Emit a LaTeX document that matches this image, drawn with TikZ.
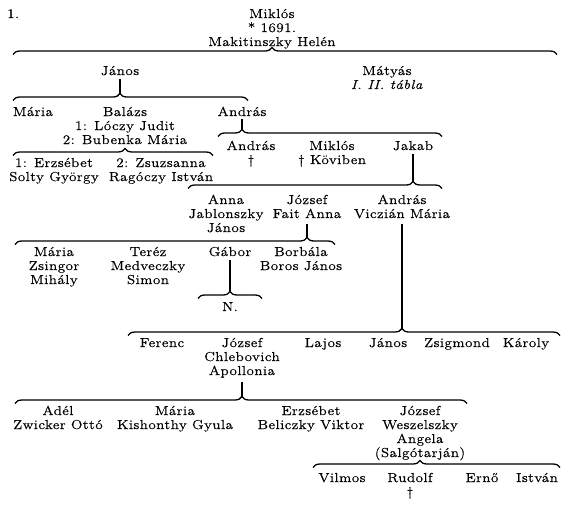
\documentclass[tikz,border=0pt]{standalone}
\usepackage{fontspec}
\setmainfont{lmroman12-regular.otf}[ItalicFont=lmroman12-italic.otf,FakeStretch=1.15,LetterSpace=4,FakeBold=0.6]
\usetikzlibrary{decorations.pathreplacing}

\begin{document}
\begin{tikzpicture}[
  x=1pt,
  y=-1pt,
  font=\fontsize{13}{14}\selectfont,
  person/.style={inner sep=0pt,anchor=base,align=center},
  famline/.style={decorate,decoration={brace,amplitude=7pt,aspect=#1},line width=1.3pt},
  stem/.style={line width=1.5pt}
]
\useasboundingbox (0,0) rectangle (570,506);

% nodes sit on the baseline of their last line
\node[person,anchor=base west] (tablaszam) at (7,18) {1.};
\node[person] (miklos) at (272,46) {Miklós\\* 1691.\\Makitinszky Helén};
\coordinate (b1w) at (13,54.5);
\coordinate (b1e) at (557,54.5);
\draw[famline=0.476] (b1w) -- (b1e);

\node[person] (janos) at (120,75) {János};
\node[person] (matyas) at (387,89) {Mátyás\\\textit{I. II. tábla}};

% János
\coordinate (b2w) at (13,100.5);
\coordinate (b2e) at (248,100.5);
\coordinate (b2t) at (120,93.5);
\draw[famline=0.455] (b2w) -- (b2e);
\draw[stem] ([yshift=-4pt]janos.south) -- (b2t);

\node[person] (maria) at (33,116) {Mária};
\node[person] (balazs) at (125,144) {Balázs\\1: Lóczy Judit\\2: Bubenka Mária};
\node[person] (andras) at (242,116) {András};

\coordinate (b3w) at (13,155.5);
\coordinate (b3e) at (213,155.5);
\draw[famline=0.56] (b3w) -- (b3e);
\node[person] (erzsebet) at (54,181) {1: Erzsébet\\Solty György};
\node[person] (zsuzsanna) at (161,181) {2: Zsuzsanna\\Ragóczy István};

% András
\coordinate (b4w) at (218,136.5);
\coordinate (b4e) at (442,136.5);
\coordinate (b4t) at (242,129.5);
\draw[famline=0.107] (b4w) -- (b4e);
\draw[stem] ([yshift=-3pt]andras.south) -- (b4t);

\node[person] (andrasifj) at (251,164) {András\\†};
\node[person] (mikloskov) at (332,164) {Miklós\\† Köviben};
\node[person] (jakab) at (413,150) {Jakab};

% Jakab
\coordinate (b5w) at (188,188.5);
\coordinate (b5e) at (442,188.5);
\coordinate (b5t) at (413,181.5);
\draw[famline=0.886] (b5w) -- (b5e);
\draw[stem] ([yshift=-4pt]jakab.south) -- (b5t);

\node[person] (anna) at (226,232) {Anna\\Jablonszky\\János};
\node[person] (jozsef) at (307,218) {József\\Fait Anna};
\node[person] (andrasvic) at (402,218) {András\\Viczián Mária};

% József, Fait Anna
\coordinate (b6w) at (15,244.5);
\coordinate (b6e) at (335,244.5);
\coordinate (b6t) at (307,237.5);
\draw[famline=0.9125] (b6w) -- (b6e);
\draw[stem] ([yshift=-6pt]jozsef.south) -- (b6t);

\node[person] (mariazs) at (54,284) {Mária\\Zsingor\\Mihály};
\node[person] (terez) at (148,284) {Teréz\\Medveczky\\Simon};
\node[person] (gabor) at (230,256) {Gábor};
\node[person] (borbala) at (301,270) {Borbála\\Boros János};

\coordinate (b7w) at (198,298.5);
\coordinate (b7e) at (262,298.5);
\coordinate (b7t) at (230,291.5);
\draw[famline=0.5] (b7w) -- (b7e);
\draw[stem] ([yshift=-4pt]gabor.south) -- (b7t);
\node[person] (nn) at (230,311) {N.};

% András, Viczián Mária
\coordinate (b8w) at (128,335.5);
\coordinate (b8e) at (560,335.5);
\coordinate (b8t) at (402,328.5);
\draw[famline=0.634] (b8w) -- (b8e);
\draw[stem] ([yshift=-6pt]andrasvic.south) -- (b8t);

\node[person] (ferenc) at (162,347) {Ferenc};
\node[person] (jozsefchl) at (242,375) {József\\Chlebovich\\Apollonia};
\node[person] (lajos) at (323,347) {Lajos};
\node[person] (janosvic) at (388,347) {János};
\node[person] (zsigmond) at (457,347) {Zsigmond};
\node[person] (karoly) at (526,347) {Károly};

% József, Chlebovich Apollonia
\coordinate (b9w) at (15,403.5);
\coordinate (b9e) at (467,403.5);
\coordinate (b9t) at (242,396.5);
\draw[famline=0.502] (b9w) -- (b9e);
\draw[stem] ([yshift=-4pt]jozsefchl.south) -- (b9t);

\node[person] (adel) at (58,429) {Adél\\Zwicker Ottó};
\node[person] (mariakis) at (175,429) {Mária\\Kishonthy Gyula};
\node[person] (erzsebetbel) at (311,429) {Erzsébet\\Beliczky Viktor};
\node[person] (jozsefwes) at (420,457) {József\\Weszelszky\\Angela\\(Salgótarján)};

\coordinate (b10w) at (313,467.5);
\coordinate (b10e) at (560,467.5);
\draw[famline=0.433] (b10w) -- (b10e);

\node[person] (vilmos) at (342,482) {Vilmos};
\node[person] (rudolf) at (410,496) {Rudolf\\†};
\node[person] (erno) at (482,482) {Ernő};
\node[person] (istvan) at (537,482) {István};
\end{tikzpicture}
\end{document}
